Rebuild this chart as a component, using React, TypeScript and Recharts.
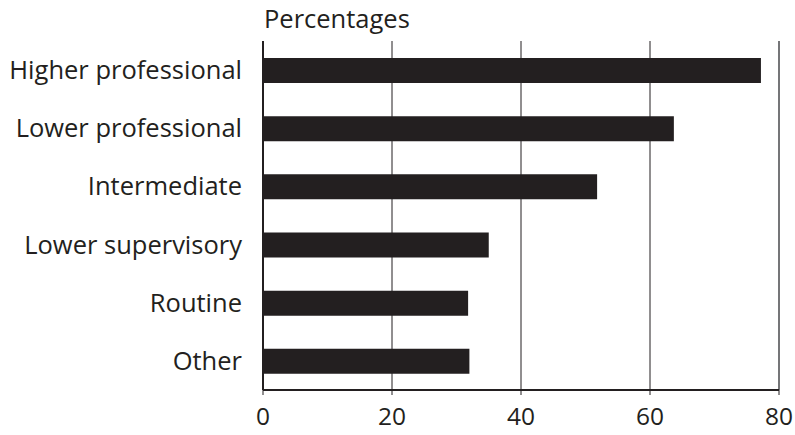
import { BarChart, Bar, XAxis, YAxis, CartesianGrid, ReferenceLine } from 'recharts'

const categories = [
  'Higher professional',
  'Lower professional',
  'Intermediate',
  'Lower supervisory',
  'Routine',
  'Other',
]
const percentages = [77.2, 63.7, 51.8, 35.0, 31.8, 32.0]
const xTicks = [0, 20, 40, 60, 80]

const ink = '#231f20'
const font = '"Open Sans", sans-serif'
const fs = 25.5

const data = categories.map((name, i) => ({ name, value: percentages[i] }))

export default function App() {
  return (
    <div style={{ position: 'absolute', left: 0, top: 0, width: 795, height: 435, background: '#fff', fontFamily: font }}>
      <div
        style={{
          position: 'absolute',
          left: 264,
          top: 6,
          fontSize: fs,
          lineHeight: `${fs}px`,
          color: ink,
          fontFamily: font,
          whiteSpace: 'nowrap',
        }}
      >
        Percentages
      </div>
      <BarChart
        width={795}
        height={435}
        data={data}
        layout="vertical"
        margin={{ top: 41, right: 16, bottom: 0, left: 0 }}
      >
        <CartesianGrid horizontal={false} stroke={ink} strokeWidth={1} />
        <XAxis
          type="number"
          domain={[0, 80]}
          ticks={xTicks}
          interval={0}
          axisLine={{ stroke: ink, strokeWidth: 2 }}
          tickLine={{ stroke: ink, strokeWidth: 1 }}
          tickSize={5}
          tickMargin={13}
          tick={{ fontSize: 24.5, fill: ink, fontFamily: font }}
          height={45}
        />
        <XAxis
          xAxisId="top"
          orientation="top"
          type="number"
          domain={[0, 80]}
          tick={false}
          tickLine={false}
          height={0}
          axisLine={{ stroke: '#6d6e71', strokeWidth: 1.5 }}
        />
        <YAxis
          type="category"
          dataKey="name"
          width={263}
          axisLine={{ stroke: ink, strokeWidth: 2 }}
          tickLine={false}
          tickMargin={15}
          tick={{ fontSize: fs, fill: ink, fontFamily: font }}
          interval={0}
        />
        <ReferenceLine x={80} stroke="#6d6e71" strokeWidth={1.5} />
        <Bar dataKey="value" fill={ink} barSize={25} isAnimationActive={false} />
      </BarChart>
    </div>
  )
}
